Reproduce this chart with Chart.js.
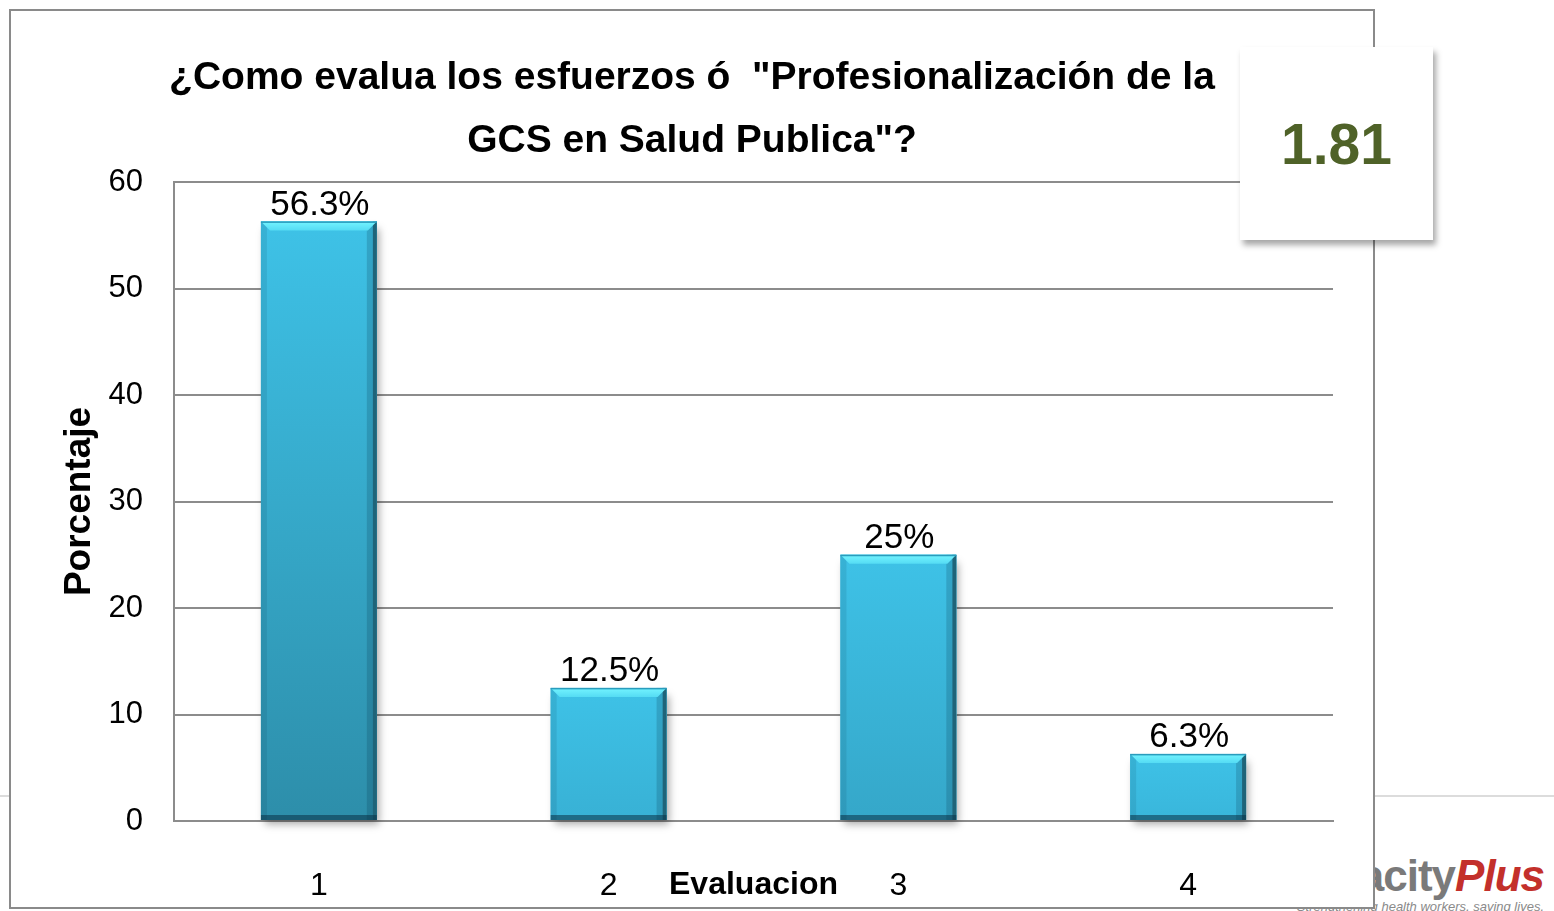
<!DOCTYPE html>
<html>
<head>
<meta charset="utf-8">
<script src="https://cdn.jsdelivr.net/npm/chart.js@4.4.1/dist/chart.umd.min.js"></script>
<style>
  html, body { margin: 0; padding: 0; background: #fff; }
  body { width: 1554px; height: 911px; position: relative; overflow: hidden; font-family: 'Liberation Sans', Arial, sans-serif; }
  .rule { position: absolute; left: 0; top: 795px; width: 1554px; height: 2px; background: #dcdcdc; }
  .logo { position: absolute; right: 10px; top: 852px; text-align: right; white-space: nowrap; }
  .logo .name { font-size: 44px; font-weight: bold; color: #7a7a7a; letter-spacing: -1px; line-height: 48px; }
  .logo .name i { color: #c3302b; }
  .logo .tag { font-size: 13px; font-style: italic; color: #8a8a8a; line-height: 14px; }
  #frame { position: absolute; left: 9px; top: 9px; width: 1362px; height: 896px; border: 2px solid #8a8a8a; background: #fff; z-index: 2; }
  #score { position: absolute; left: 1240px; top: 47px; width: 193px; height: 193px; background: #fff; z-index: 3;
           box-shadow: 3px 5px 6px rgba(0,0,0,0.35); display: flex; align-items: center; justify-content: center;
           font-family: 'Liberation Sans', Arial, sans-serif; font-weight: bold; font-size: 57px; color: #4f6228; }
</style>
</head>
<body>
<div class="rule"></div>
<div class="logo">
  <div class="name">Capacity<i>Plus</i></div>
  <div class="tag">Strengthening health workers, saving lives.</div>
</div>
<div id="frame"><canvas id="chart" width="1362" height="896"></canvas></div>
<div id="score">1.81</div>
<script>
// Data
const categories = ['1', '2', '3', '4'];
const percentages = [56.3, 12.5, 25, 6.3];
const valueLabels = ['56.3%', '12.5%', '25%', '6.3%'];
const yTicks = [0, 10, 20, 30, 40, 50, 60];
const chartTitle = ['¿Como evalua los esfuerzos ó  "Profesionalización de la', 'GCS en Salud Publica"?'];
const xTitle = 'Evaluacion';
const yTitle = 'Porcentaje';

const GRID = '#8c8c8c';
const FONT = '"Liberation Sans", Arial, sans-serif';

function mix(a, b, t) {
    const pa = a.match(/\w\w/g).map(h => parseInt(h, 16));
    const pb = b.match(/\w\w/g).map(h => parseInt(h, 16));
    return 'rgb(' + pa.map((v, i) => Math.round(v + (pb[i] - v) * t)).join(',') + ')';
}

// Excel-like bevelled bars, drawn over the library's bar elements
const bevelPlugin = {
    id: 'bevel',
    beforeDatasetsDraw(chart) {
        const ctx = chart.ctx;
        ctx.save();
        chart.getDatasetMeta(0).data.forEach(bar => {
            const {x, y, width, base} = bar.getProps(['x', 'y', 'width', 'base'], true);
            ctx.shadowColor = 'rgba(0,0,0,0.35)';
            ctx.shadowBlur = 8;
            ctx.shadowOffsetX = 2;
            ctx.shadowOffsetY = 4;
            ctx.fillStyle = '#bbbbbb';
            ctx.fillRect(x - width / 2 + 2, y + 4, width - 2, base - y - 4);
        });
        ctx.restore();
    },
    afterDatasetsDraw(chart) {
        const ctx = chart.ctx;
        const area = chart.chartArea;
        ctx.save();
        chart.getDatasetMeta(0).data.forEach(bar => {
            const {x, y, width, base} = bar.getProps(['x', 'y', 'width', 'base'], true);
            const l = x - width / 2, r = x + width / 2, t = y, b = base;
            const h = (b - t) / (area.bottom - area.top);
            const g = ctx.createLinearGradient(0, t, 0, b);
            g.addColorStop(0, '#3ec2e7');
            g.addColorStop(1, mix('3bbbe1', '2c8ba6', h));
            ctx.fillStyle = g;
            ctx.fillRect(l, t, width, b - t);
            // side shading
            ctx.fillStyle = 'rgba(0,40,60,0.10)';
            ctx.fillRect(l, t, 6, b - t);
            ctx.fillStyle = 'rgba(0,40,60,0.18)';
            ctx.fillRect(r - 10, t, 6, b - t);
            ctx.fillStyle = '#1f6479';
            ctx.fillRect(r - 4, t, 4, b - t);
            ctx.fillStyle = 'rgba(10,50,70,0.55)';
            ctx.fillRect(l, b - 5, width, 5);
            // top bevel
            const bv = 9;
            ctx.beginPath();
            ctx.moveTo(l, t);
            ctx.lineTo(r, t);
            ctx.lineTo(r - bv, t + bv);
            ctx.lineTo(l + bv, t + bv);
            ctx.closePath();
            const tg = ctx.createLinearGradient(0, t, 0, t + bv);
            tg.addColorStop(0, '#74f4ff');
            tg.addColorStop(1, '#55dcf4');
            ctx.fillStyle = tg;
            ctx.fill();
            ctx.fillStyle = '#2a9cbc';
            ctx.fillRect(l, t, width, 1.5);
        });
        ctx.restore();
    },
    afterDraw(chart) {
        const ctx = chart.ctx;
        ctx.save();
        ctx.font = '35px ' + FONT;
        ctx.fillStyle = '#000';
        ctx.textAlign = 'center';
        ctx.textBaseline = 'bottom';
        chart.getDatasetMeta(0).data.forEach((bar, i) => {
            const {x, y} = bar.getProps(['x', 'y'], true);
            ctx.fillText(valueLabels[i], x + 1, y + 1);
        });
        ctx.restore();
    }
};

const ctx = document.getElementById('chart').getContext('2d');

new Chart(ctx, {
    type: 'bar',
    data: {
        labels: categories,
        datasets: [{
            data: percentages,
            backgroundColor: '#3bbde3',
            borderWidth: 0,
            barPercentage: 0.4,
            categoryPercentage: 1.0
        }]
    },
    options: {
        responsive: false,
        animation: false,
        layout: { padding: 0 },
        scales: {
            x: {
                afterFit: scale => { scale.height = 86; },
                grid: { display: false, drawTicks: false },
                border: { display: true, color: GRID, width: 2 },
                ticks: {
                    color: '#000',
                    padding: 46,
                    font: { family: FONT, size: 32 }
                },
                title: {
                    display: true,
                    text: xTitle,
                    color: '#000',
                    padding: { top: 0, bottom: 3 },
                    font: { family: FONT, size: 32, weight: 'bold' }
                }
            },
            y: {
                min: 0,
                max: 60,
                afterFit: scale => { scale.width = 163; },
                afterBuildTicks: scale => { scale.ticks = yTicks.map(v => ({ value: v })); },
                grid: { color: GRID, lineWidth: 2, drawTicks: false },
                border: { display: true, color: GRID, width: 2 },
                ticks: {
                    color: '#000',
                    padding: 31,
                    font: { family: FONT, size: 31 }
                },
                title: {
                    display: true,
                    text: yTitle,
                    color: '#000',
                    padding: { top: 47, bottom: 0 },
                    font: { family: FONT, size: 37, weight: 'bold' }
                }
            },
            // empty right gutter so the title stays centred on the whole frame
            yRight: {
                position: 'right',
                afterFit: scale => { scale.width = 40; },
                grid: { display: false, drawTicks: false },
                border: { display: false },
                ticks: { display: false }
            }
        },
        plugins: {
            legend: { display: false },
            tooltip: { enabled: false },
            title: {
                display: true,
                text: chartTitle,
                color: '#000',
                padding: { top: 36, bottom: 9 },
                font: { family: FONT, size: 39, weight: 'bold', lineHeight: 63 / 39 }
            }
        }
    },
    plugins: [bevelPlugin]
});
</script>
</body>
</html>
